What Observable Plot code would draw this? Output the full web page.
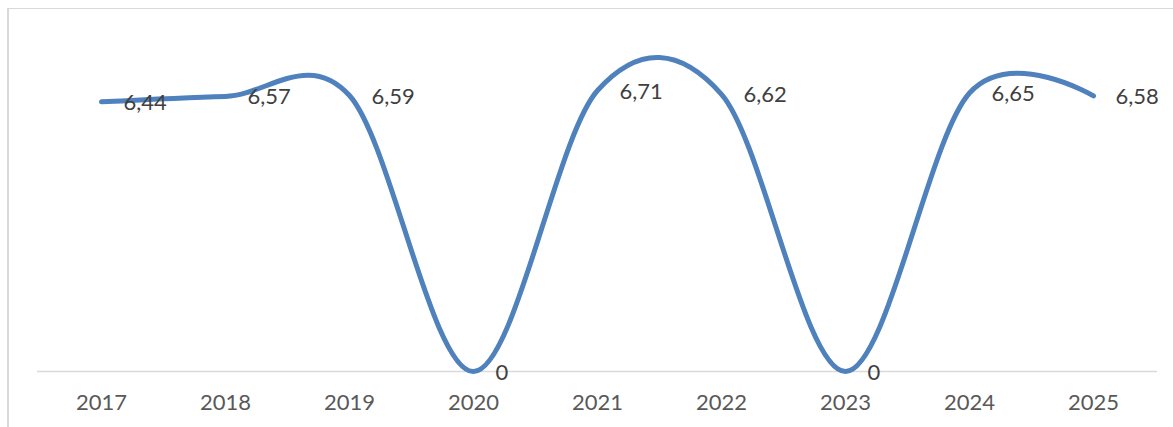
<!DOCTYPE html>
<html>
<head>
<meta charset="utf-8">
<script src="https://cdn.jsdelivr.net/npm/d3@7"></script>
<script src="https://cdn.jsdelivr.net/npm/@observablehq/plot@0.6"></script>
<style>
  html, body { margin: 0; padding: 0; background: #fff; }
  #wrap { position: relative; width: 1173px; height: 427px; overflow: hidden; }
  #border { position: absolute; left: 7px; top: 8px; width: 1166px; height: 419px;
            border-left: 2px solid #d9d9d9; border-top: 1.5px solid #d9d9d9; box-sizing: border-box; pointer-events: none; }
</style>
</head>
<body>
<div id="wrap"><div id="border"></div></div>
<script>
const years = ["2017", "2018", "2019", "2020", "2021", "2022", "2023", "2024", "2025"];
const values = [6.44, 6.57, 6.59, 0, 6.71, 6.62, 0, 6.65, 6.58];

const data = years.map((y, i) => ({year: y, value: values[i], label: String(values[i]).replace(".", ",")}));

const chart = Plot.plot({
  width: 1173,
  height: 427,
  marginLeft: 37,
  marginRight: 16,
  marginTop: 36,
  marginBottom: 56,
  style: {fontFamily: "Lato, 'Open Sans', sans-serif", background: "transparent"},
  x: {type: "point", domain: years, padding: 0.5, label: null},
  y: {domain: [0, 8], axis: null},
  marks: [
    Plot.ruleY([0], {stroke: "#d9d9d9", strokeWidth: 1.5}),
    Plot.axisX({tickSize: 0, tickPadding: 23, fontSize: 22, fill: "#595959", label: null}),
    Plot.line(data, {x: "year", y: "value", curve: "cardinal", stroke: "#4F81BD", strokeWidth: 5, strokeLinecap: "round", strokeLinejoin: "round"}),
    Plot.text(data, {x: "year", y: "value", text: "label", dx: 22, dy: 1, textAnchor: "start", fontSize: 22, fill: "#404040"})
  ]
});
document.getElementById("wrap").insertBefore(chart, document.getElementById("border"));
</script>
</body>
</html>
